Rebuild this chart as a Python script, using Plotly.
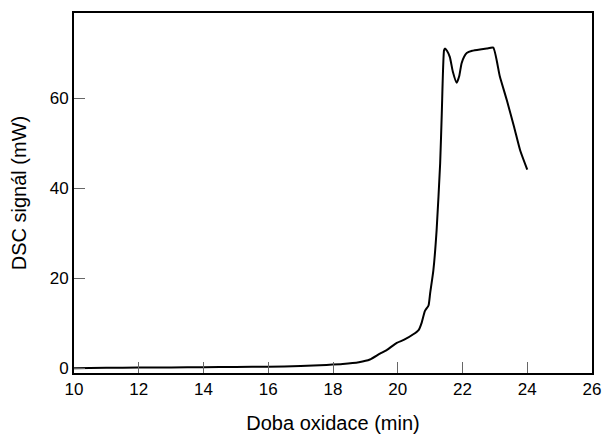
import plotly.graph_objects as go

time_min = [10.0, 11.0, 12.0, 13.0, 14.0, 15.0, 16.0, 17.0, 17.8, 18.3, 18.8, 19.14, 19.45, 19.66, 19.97,
            20.2, 20.48, 20.65, 20.74, 20.84, 20.95, 21.0, 21.1, 21.2, 21.31, 21.36, 21.43, 21.46,
            21.52, 21.61, 21.7, 21.82, 21.9, 21.97, 22.05, 22.13, 22.3, 22.54, 22.75, 22.95,
            23.15, 23.37, 23.6, 23.78, 24.0]
dsc_mw = [0.05, 0.15, 0.2, 0.25, 0.3, 0.35, 0.4, 0.55, 0.8, 1.0, 1.4, 2.0, 3.3, 4.1, 5.7,
          6.4, 7.6, 8.6, 10.2, 12.8, 14.0, 16.7, 21.8, 30.7, 45.6, 56.7, 70.7, 71.1,
          70.6, 69.2, 66.0, 63.5, 65.0, 67.8, 69.3, 70.1, 70.6, 70.9, 71.1, 71.3,
          65.0, 59.6, 53.5, 48.5, 44.2]

x_ticks = [10, 12, 14, 16, 18, 20, 22, 24, 26]
y_ticks = [0, 20, 40, 60]

FONT = "Liberation Sans, Arial, sans-serif"

fig = go.Figure()
fig.add_trace(go.Scatter(x=time_min, y=dsc_mw, mode="lines",
                         line=dict(color="black", width=2, shape="spline", smoothing=0.5),
                         showlegend=False, hoverinfo="skip"))

axis_common = dict(showgrid=False, zeroline=False, showline=True, linecolor="black", linewidth=2,
                   mirror=True, ticks="inside", ticklen=11, tickwidth=1, tickcolor="#666666",
                   automargin=False,
                   tickfont=dict(family=FONT, size=17, color="black"))

fig.update_xaxes(range=[10, 26], tickvals=x_ticks,
                 title=dict(text="Doba oxidace (min)", font=dict(family=FONT, size=20, color="black"),
                            standoff=18),
                 **axis_common)
fig.update_yaxes(range=[-1, 79], tickvals=y_ticks,
                 title=dict(text="DSC signál (mW)", font=dict(family=FONT, size=20, color="black"),
                            standoff=18),
                 **axis_common)

fig.update_layout(width=602, height=435, margin=dict(l=74, r=10, t=13, b=62),
                  plot_bgcolor="white", paper_bgcolor="white")

# remove the page's default body margin so the 602x435 figure fills the window exactly
fig.write_html("out.html", config={"displayModeBar": False, "staticPlot": True},
               post_script="document.body.style.margin='0';document.body.style.overflow='hidden';")
